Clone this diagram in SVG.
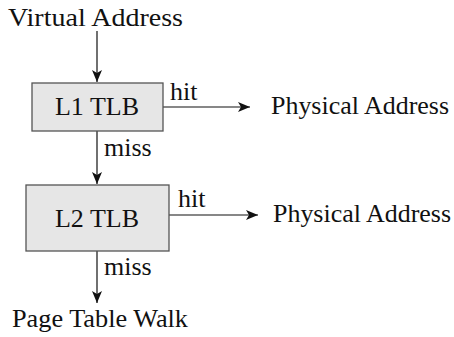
<svg xmlns="http://www.w3.org/2000/svg" width="454" height="337" viewBox="0 0 454 337">
<style>
text{font-family:'Liberation Serif','DejaVu Serif',serif;font-size:26px;fill:#111}
.box{fill:#e6e6e6;stroke:#555;stroke-width:1.3}
.ln{stroke:#111;stroke-width:1.2;fill:none;marker-end:url(#ah)}
</style>
<defs>
<marker id="ah" viewBox="0 0 12 10" refX="12" refY="5" markerWidth="12" markerHeight="10" markerUnits="userSpaceOnUse" orient="auto">
<path d="M0,0 L12,5 L0,10 L3,5 Z" fill="#111"/>
</marker>
</defs>
<g id="connectors">
<line class="ln" x1="97" y1="31" x2="97" y2="82"/>
<line class="ln" x1="163" y1="107" x2="250" y2="107"/>
<line class="ln" x1="97" y1="131" x2="97" y2="184"/>
<line class="ln" x1="169" y1="215" x2="258" y2="215"/>
<line class="ln" x1="97" y1="251" x2="97" y2="303"/>
<text x="170" y="100">hit</text>
<text x="104" y="156">miss</text>
<text x="178" y="207">hit</text>
<text x="104" y="275">miss</text>
</g>
<g id="virtual"><text x="8" y="26" textLength="175" lengthAdjust="spacingAndGlyphs">Virtual Address</text></g>
<g id="l1"><rect class="box" x="32" y="83" width="131" height="48"/><text x="97" y="115" text-anchor="middle">L1 TLB</text></g>
<g id="pa1"><text x="271" y="114" textLength="178" lengthAdjust="spacingAndGlyphs">Physical Address</text></g>
<g id="l2"><rect class="box" x="26" y="185" width="143" height="66"/><text x="97" y="227" text-anchor="middle">L2 TLB</text></g>
<g id="pa2"><text x="273" y="222" textLength="178" lengthAdjust="spacingAndGlyphs">Physical Address</text></g>
<g id="ptw"><text x="12" y="327" textLength="176" lengthAdjust="spacingAndGlyphs">Page Table Walk</text></g>
</svg>
